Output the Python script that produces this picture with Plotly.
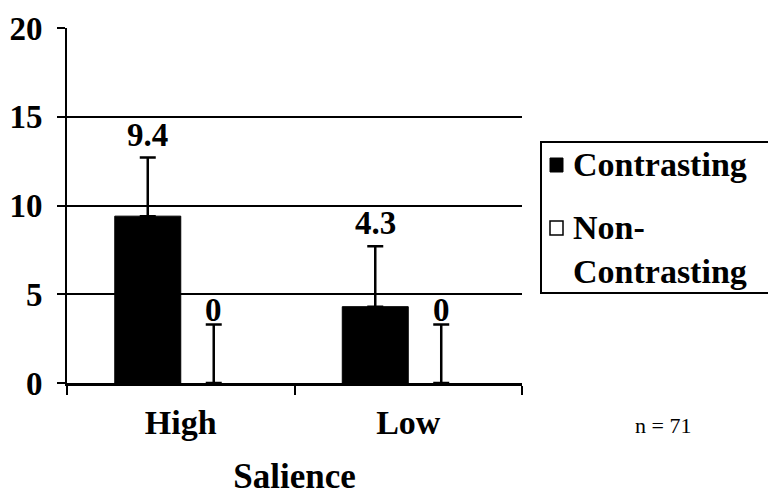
import plotly.graph_objects as go

# data
salience = ['High', 'Low']
contrasting = [9.4, 4.3]
contrasting_err = [3.3, 3.4]
non_contrasting = [0, 0]
non_contrasting_err = [3.3, 3.3]
value_labels_c = ['9.4', '4.3']
value_labels_n = ['0', '0']
y_ticks = [0, 5, 10, 15, 20]

FONT = 'Times New Roman, Liberation Serif, serif'

# page body adds a small offset, so pixel targets are shifted back by it
OFF = 8
# plot area in pixels (as in the original), used to place the hand-made legend
L, R, T, B = 67, 522, 28, 383


def px_x(x):
    return (x - L) / (R - L)


def px_y(y):
    return (B - y) / (B - T)


fig = go.Figure()
fig.add_trace(go.Bar(x=salience, y=contrasting, name='Contrasting',
                     marker=dict(color='black', line=dict(color='black', width=1)),
                     error_y=dict(type='data', array=contrasting_err,
                                  arrayminus=[0, 0], color='black',
                                  thickness=2.5, width=8)))
fig.add_trace(go.Bar(x=salience, y=non_contrasting, name='Non-Contrasting',
                     marker=dict(color='white', line=dict(color='white', width=0)),
                     error_y=dict(type='data', array=non_contrasting_err,
                                  arrayminus=[0, 0], color='black',
                                  thickness=2.5, width=8)))

annotations = []
for i, cat in enumerate(salience):
    annotations.append(dict(x=cat, y=contrasting[i] + contrasting_err[i],
                            text='<b>' + value_labels_c[i] + '</b>', showarrow=False,
                            xshift=-33, yanchor='bottom', yshift=3,
                            font=dict(family=FONT, size=33, color='black')))
    annotations.append(dict(x=cat, y=non_contrasting[i] + non_contrasting_err[i],
                            text='<b>' + value_labels_n[i] + '</b>', showarrow=False,
                            xshift=33, yanchor='bottom', yshift=-6,
                            font=dict(family=FONT, size=33, color='black')))
annotations.append(dict(x=px_x(693), y=px_y(440), xref='paper', yref='paper',
                        text='n = 71', showarrow=False,
                        font=dict(family=FONT, size=22, color='black')))

# legend drawn by hand so it sits like the original
legend_text = ['Contrasting', 'Non-<br>Contrasting']
legend_y = [164, 249]
for txt, yy in zip(legend_text, legend_y):
    annotations.append(dict(x=px_x(571), y=px_y(yy), xref='paper', yref='paper',
                            xanchor='left', yanchor='middle', showarrow=False,
                            align='left', text='<b>' + txt + '</b>',
                            font=dict(family=FONT, size=34, color='black')))

shapes = [
    dict(type='rect', xref='paper', yref='paper', x0=px_x(541), x1=px_x(774),
         y0=px_y(293), y1=px_y(142), line=dict(color='black', width=2)),
    dict(type='rect', xref='paper', yref='paper', x0=px_x(550), x1=px_x(563),
         y0=px_y(172), y1=px_y(158), fillcolor='black', line=dict(color='black', width=1)),
    dict(type='rect', xref='paper', yref='paper', x0=px_x(550), x1=px_x(563),
         y0=px_y(235), y1=px_y(221), fillcolor='white', line=dict(color='black', width=1.5)),
]

fig.update_layout(
    width=776 - OFF, height=504 - OFF,
    margin=dict(l=L - OFF, r=776 - R, t=T - OFF, b=504 - B),
    paper_bgcolor='white', plot_bgcolor='white',
    barmode='group', bargap=0.42, bargroupgap=0,
    font=dict(family=FONT, color='black'),
    showlegend=False,
    annotations=annotations,
    shapes=shapes,
)
fig.update_xaxes(showline=True, linecolor='black', linewidth=3, automargin=False,
                 ticks='outside', tickson='boundaries', ticklen=9, tickwidth=2,
                 tickcolor='black', ticklabelstandoff=7,
                 tickvals=salience, ticktext=['<b>' + s + '</b>' for s in salience],
                 tickfont=dict(family=FONT, size=34, color='black'),
                 title=dict(text='<b>Salience</b>', standoff=24,
                            font=dict(family=FONT, size=35, color='black')))
fig.update_yaxes(range=[0, 20], showline=True, linecolor='black', automargin=False,
                 linewidth=2, showgrid=True, gridcolor='black', gridwidth=2,
                 ticks='outside', ticklen=8, tickwidth=2, tickcolor='black',
                 zeroline=False, ticklabelstandoff=8,
                 tickvals=y_ticks, ticktext=['<b>%d</b>' % v for v in y_ticks],
                 tickfont=dict(family=FONT, size=33, color='black'))

fig.write_html('out.html')
